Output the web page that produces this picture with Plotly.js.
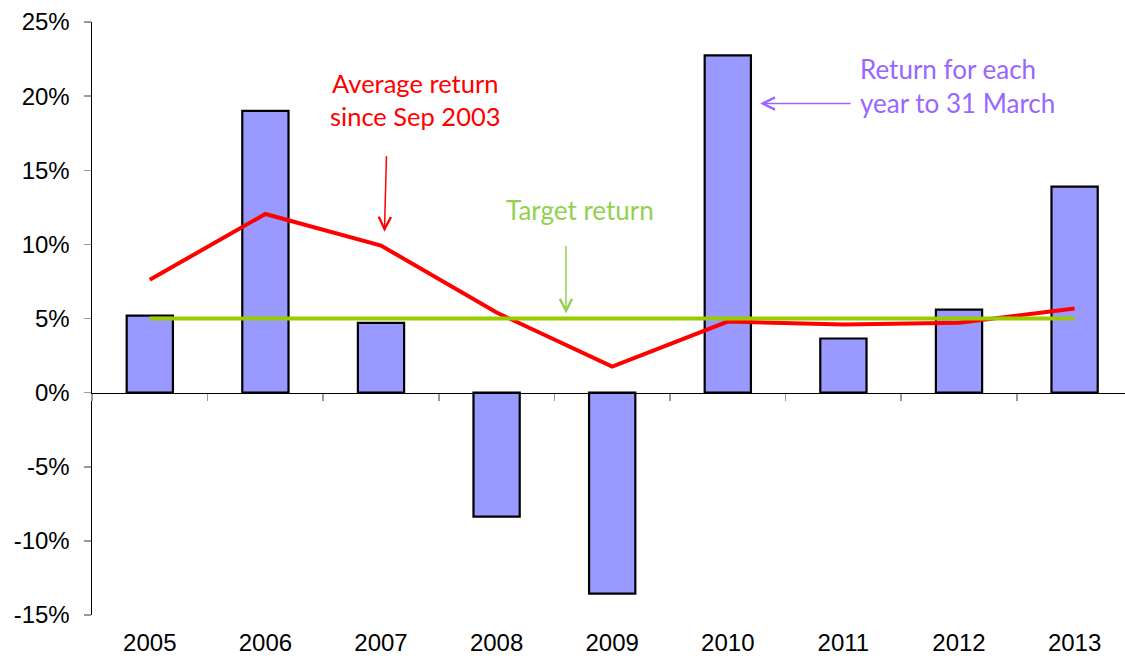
<!DOCTYPE html>
<html>
<head>
<meta charset="utf-8">
<script src="https://cdn.plot.ly/plotly-3.0.1.min.js"></script>
<style>html,body{margin:0;padding:0;background:#fff;}#chart{width:1125px;height:659px;}</style>
</head>
<body>
<div id="chart"></div>
<script>
const years = ['2005','2006','2007','2008','2009','2010','2011','2012','2013'];
const annualReturn = [0.052, 0.190, 0.047, -0.0837, -0.1356, 0.2275, 0.0365, 0.056, 0.139];
const averageReturn = [0.0762, 0.1205, 0.0992, 0.054, 0.0175, 0.0479, 0.046, 0.0472, 0.0567];
const targetReturn = [0.05, 0.05, 0.05, 0.05, 0.05, 0.05, 0.05, 0.05, 0.05];
const yTicks = [-0.15, -0.10, -0.05, 0, 0.05, 0.10, 0.15, 0.20, 0.25];
const yTickText = ['-15%', '-10%', '-5%', '0%', '5%', '10%', '15%', '20%', '25%'];

const annFont = 'Lato, "Open Sans", sans-serif';
const axFont = 'Arial, "Liberation Sans", sans-serif';

const traces = [
  {type: 'bar', x: years, y: annualReturn, width: 0.4,
   marker: {color: '#9999FF', line: {color: '#000000', width: 2.2}}, hoverinfo: 'skip'},
  {type: 'scatter', mode: 'lines', x: years, y: averageReturn,
   line: {color: '#FF0000', width: 4}, hoverinfo: 'skip'},
  {type: 'scatter', mode: 'lines', x: years, y: targetReturn,
   line: {color: '#99CC00', width: 4}, hoverinfo: 'skip'},
  {type: 'scatter', mode: 'lines', x: years, y: targetReturn, xaxis: 'x2',
   line: {color: 'rgba(0,0,0,0)', width: 0}, hoverinfo: 'skip', showlegend: false}
];

const layout = {
  width: 1125, height: 659,
  margin: {l: 92, r: 0, t: 22, b: 44},
  paper_bgcolor: '#ffffff', plot_bgcolor: '#ffffff',
  showlegend: false,
  font: {family: axFont, color: '#000000', size: 24},
  xaxis: {type: 'category', categoryarray: years, range: [-0.5, 8.436],
    showline: false, ticks: 'outside', ticklen: 6, tickcolor: 'rgba(0,0,0,0)',
    showgrid: false, zeroline: false,
    tickfont: {size: 24, family: axFont}, fixedrange: true},
  xaxis2: {type: 'category', categoryarray: years, range: [-0.5, 8.436],
    overlaying: 'x', anchor: 'free', position: 0.375,
    showline: true, linecolor: '#000000', linewidth: 1.5,
    ticks: 'outside', tickson: 'boundaries', ticklen: 7, tickcolor: '#999999', tickwidth: 1.5,
    showticklabels: false, showgrid: false, zeroline: false, fixedrange: true},
  yaxis: {range: [-0.15, 0.25], tickvals: yTicks, ticktext: yTickText,
    showline: true, linecolor: '#000000', linewidth: 1.5,
    ticks: 'outside', ticklen: 7, tickcolor: '#999999', tickwidth: 1.5,
    ticklabelstandoff: 9,
    showgrid: false, zeroline: false, tickfont: {size: 24, family: axFont}, fixedrange: true},
  annotations: [
    {x: 2.30, y: 0.1977, xref: 'x', yref: 'y', text: 'Average return<br>since Sep 2003',
     showarrow: false, font: {family: annFont, size: 25.5, color: '#FF0000'}, align: 'center',
     xanchor: 'center', yanchor: 'middle'},
    {x: 2.03, y: 0.1086, xref: 'x', yref: 'y', text: '', showarrow: true,
     ax: 2, ay: -77, arrowhead: 5, arrowsize: 1.6, arrowwidth: 1.5, arrowcolor: '#FF0000'},
    {x: 3.72, y: 0.1235, xref: 'x', yref: 'y', text: 'Target return',
     showarrow: false, font: {family: annFont, size: 26, color: '#92D050'},
     xanchor: 'center', yanchor: 'middle'},
    {x: 3.60, y: 0.0533, xref: 'x', yref: 'y', text: '', showarrow: true,
     ax: 0, ay: -69, arrowhead: 5, arrowsize: 1.6, arrowwidth: 1.5, arrowcolor: '#92D050'},
    {x: 6.13, y: 0.2065, xref: 'x', yref: 'y', text: 'Return for each<br>year to 31 March',
     showarrow: false, font: {family: annFont, size: 26, color: '#9966FF'}, align: 'left',
     xanchor: 'left', yanchor: 'middle'},
    {x: 5.28, y: 0.195, xref: 'x', yref: 'y', text: '', showarrow: true,
     ax: 92, ay: 0, arrowhead: 5, arrowsize: 1.6, arrowwidth: 1.5, arrowcolor: '#9966FF'}
  ]
};

Plotly.newPlot('chart', traces, layout, {displayModeBar: false, staticPlot: true});
</script>
</body>
</html>
